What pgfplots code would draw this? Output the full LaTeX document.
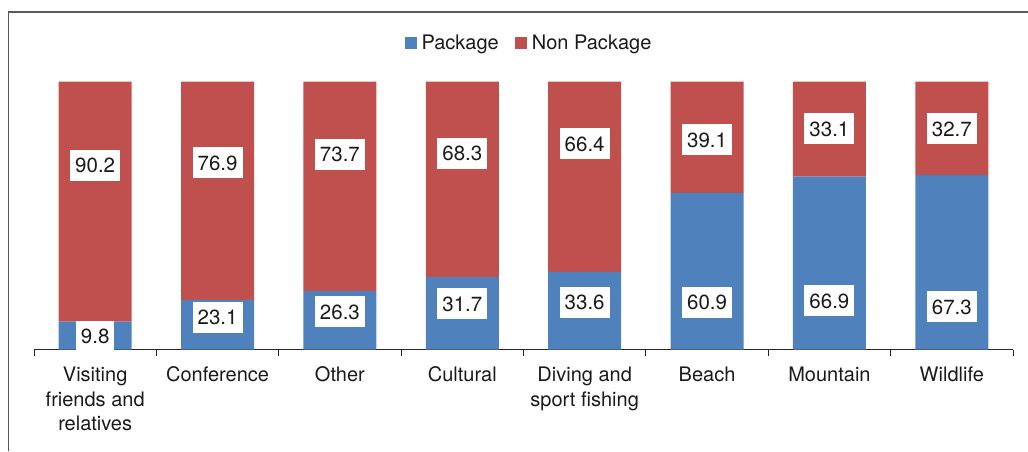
\documentclass[border=0pt]{standalone}
\usepackage{pgfplots}
\pgfplotsset{compat=1.18}
\usepackage{pgfplotstable}
\usepackage{fontspec}
\setmainfont{TeX Gyre Heros}
\definecolor{pkg}{HTML}{4F81BD}
\definecolor{non}{HTML}{C0504D}
\definecolor{txt}{HTML}{1A1A1A}

% bar heights as drawn in the reference; label texts as printed
\pgfplotstableread{
x pkg non tp tn lp ln
0 10.4 89.6 9.8 90.2 5.0 68.8
1 18.5 81.5 23.1 76.9 12.1 69.6
2 21.8 78.2 26.3 73.7 14.0 72.9
3 27.0 73.0 31.7 68.3 17.0 73.3
4 29.0 71.0 33.6 66.4 17.7 76.7
5 58.4 41.6 60.9 39.1 17.4 78.2
6 64.5 35.5 66.9 33.1 18.1 82.3
7 65.1 34.9 67.3 32.7 15.9 82.3
}\data

\begin{document}
\begin{tikzpicture}[x=1pt,y=1pt]
\path[use as bounding box] (0,0) rectangle (1028,451);
\draw[line width=1.2pt, black!65] (8.5,0) -- (8.5,439) -- (1028,439);
\begin{axis}[
  at={(34pt,101.5pt)}, anchor=south west,
  scale only axis, width=979pt, height=268pt,
  ybar stacked, bar width=73pt,
  xmin=-0.5, xmax=7.5, ymin=0, ymax=100,
  axis x line=bottom, axis y line=none,
  axis line style={-, black!85, line width=1pt},
  xtick={-0.5,0.5,...,7.5}, xticklabels={},
  tick align=outside, major tick length=6pt,
  tick style={black!85, line width=1pt},
  extra x ticks={0,1,2,3,4,5,6,7},
  extra x tick labels={{Visiting\\friends and\\relatives},Conference,Other,Cultural,{Diving and\\sport fishing},Beach,Mountain,Wildlife},
  extra x tick style={tick style={draw=none}},
  xticklabel style={align=center, text=txt, font=\fontsize{20}{24.5}\selectfont, yshift=-8pt},
  legend style={at={(0.5056,1.1455)}, anchor=center, draw=none, legend columns=2,
    font=\fontsize{20}{22}\selectfont, text=txt, inner xsep=1pt,
    /tikz/every odd column/.append style={column sep=3pt},
    /tikz/every even column/.append style={column sep=14pt}},
  legend image code/.code={\fill[#1] (0pt,-6pt) rectangle (12pt,6pt);},
]
\addplot[fill=pkg, draw=none] table[x=x, y=pkg]{\data};
\addplot[fill=non, draw=none] table[x=x, y=non]{\data};
\legend{Package, Non Package}
\end{axis}
\begin{axis}[
  at={(34pt,101.5pt)}, anchor=south west,
  scale only axis, width=979pt, height=268pt,
  xmin=-0.5, xmax=7.5, ymin=0, ymax=100,
  hide axis,
  nodes near coords, point meta=explicit symbolic,
  every node near coord/.append style={anchor=center, fill=white, text=txt,
    inner xsep=5pt, minimum height=31pt, font=\fontsize{20.5}{22}\selectfont},
]
\addplot[draw=none, mark=none] table[x=x, y=lp, meta=tp]{\data};
\addplot[draw=none, mark=none] table[x=x, y=ln, meta=tn]{\data};
\end{axis}
\end{tikzpicture}
\end{document}
